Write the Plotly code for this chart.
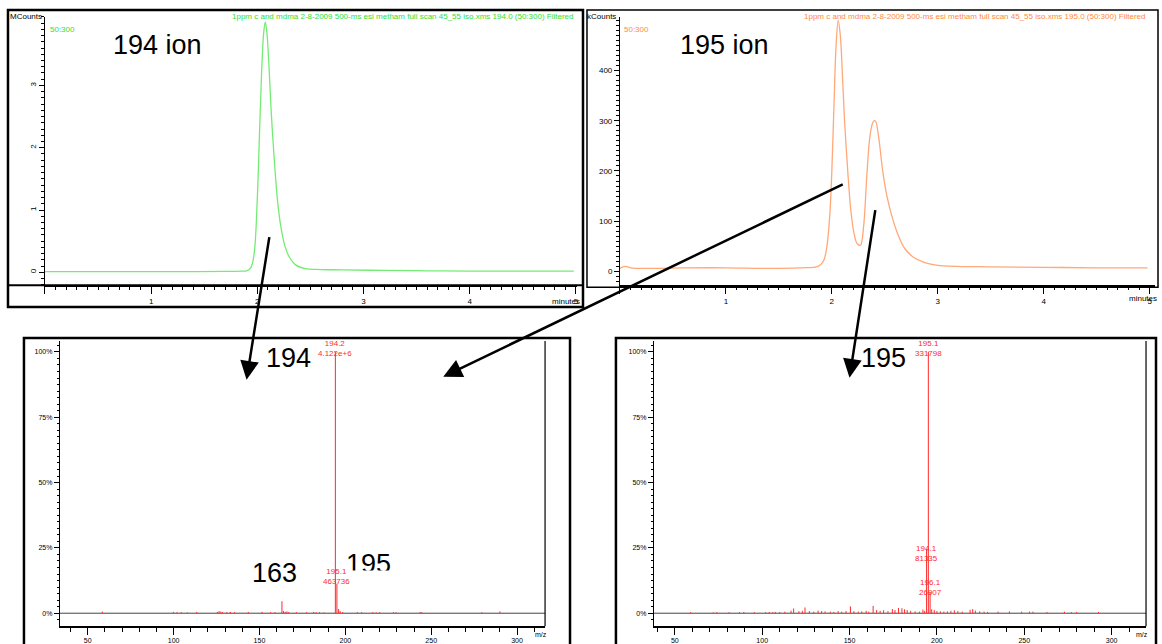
import plotly.graph_objects as go

W, H = 1162, 644
YS = 0.989  # vertical correction observed between intended and photographed positions

# ---------------- data ----------------
# 194 ion chromatogram (minutes, MCounts)
t194 = [0.0, 0.3, 0.6, 1.0, 1.4, 1.7, 1.85, 1.90, 1.94, 1.97, 2.00, 2.02, 2.04, 2.06, 2.075,
        2.09, 2.11, 2.13, 2.16, 2.19, 2.22, 2.26, 2.30, 2.36, 2.45, 2.6, 2.8, 3.2, 3.6, 4.0, 4.5, 4.98]
i194 = [0.01, 0.01, 0.01, 0.012, 0.012, 0.015, 0.02, 0.025, 0.08, 0.3, 1.2, 2.2, 3.2, 3.85, 4.02,
        3.85, 3.3, 2.6, 1.8, 1.15, 0.75, 0.42, 0.25, 0.12, 0.06, 0.045, 0.04, 0.03, 0.025, 0.02, 0.02, 0.02]

# 195 ion chromatogram (minutes, kCounts)
t195 = [0.0, 0.05, 0.1, 0.3, 0.6, 1.0, 1.4, 1.7, 1.87, 1.92, 1.95, 1.98, 2.00, 2.02, 2.04, 2.06, 2.08,
        2.10, 2.12, 2.15, 2.18, 2.21, 2.24, 2.27, 2.30, 2.33, 2.36, 2.39, 2.41, 2.44, 2.48, 2.52,
        2.58, 2.64, 2.69, 2.77, 2.87, 3.0, 3.5, 4.0, 4.5, 4.98]
i195 = [6, 10, 7, 6, 7, 7, 6, 7, 10, 20, 45, 110, 200, 330, 450, 500, 470,
        390, 300, 200, 120, 75, 55, 52, 90, 190, 270, 298, 300, 270, 200, 150,
        100, 65, 45, 28, 18, 12, 9, 8, 7, 7]

# mass spectrum under the 194 ion peak (m/z, relative %)
ms194_mz = [58.5, 99.9, 102, 104.5, 108, 113.5, 125.5, 126.5, 127.5, 128.5, 131, 133, 135.5,
            143.5, 151.5, 156.5, 159, 163.1, 164, 165, 166, 167, 171.5, 177.5, 181.5, 183, 185,
            187.5, 194.2, 195.1, 196.1, 197, 198.5, 207, 209.5, 216, 218, 220, 228, 229.5,
            243.5, 244.5, 279.5, 290]
ms194_int = [0.6, 0.5, 0.4, 0.4, 0.3, 0.5, 0.5, 0.8, 0.6, 0.4, 0.4, 0.5, 0.4,
             0.5, 0.5, 0.4, 0.4, 4.6, 0.8, 0.5, 0.7, 0.4, 0.4, 0.4, 0.5, 0.4, 0.4,
             0.3, 100, 11.25, 1.6, 0.8, 0.4, 0.4, 0.4, 0.4, 0.3, 0.4, 0.4, 0.4,
             0.5, 0.4, 0.4, 0.7]

# mass spectrum under the 195 ion peak (m/z, relative %)
ms195_mz = [59, 72, 74, 81, 87, 89.5, 95.5, 102, 104, 106, 107.5, 110, 113, 116.5, 118, 121, 123,
            124.5, 127, 129.5, 132, 134, 136, 139, 141, 143.5, 145.5, 148, 150.5, 152.5, 155,
            157, 159.5, 161, 163.5, 165.5, 167.5, 169.5, 172, 174.5, 176, 178, 180, 181.5, 183,
            185, 187.5, 190, 192, 193, 194.1, 195.1, 196.1, 197, 198.5, 200, 202, 204, 206, 208,
            210, 212, 214.5, 219, 220.5, 222, 224.5, 227, 229, 235, 241.5, 248.5, 253, 255, 263,
            273, 277, 280, 292.5]
ms195_int = [0.4, 0.3, 0.4, 0.4, 0.4, 0.5, 0.4, 0.4, 0.5, 0.4, 0.5, 0.4, 0.6, 1.0, 1.8, 0.8, 0.9,
             2.2, 0.8, 0.6, 1.0, 0.8, 0.7, 0.6, 0.5, 0.8, 0.6, 0.8, 2.6, 0.8, 0.6,
             0.7, 0.9, 0.6, 2.8, 1.2, 0.9, 1.1, 0.8, 1.6, 1.2, 2.0, 1.9, 1.5, 1.2,
             0.9, 0.7, 0.6, 1.4, 0.9, 24.5, 100, 8.1, 1.5, 1.2, 0.8, 0.7, 0.6, 0.7, 0.9,
             1.1, 0.8, 0.6, 1.3, 1.6, 1.0, 0.7, 0.6, 0.5, 0.6, 0.7, 0.6, 0.6, 0.6, 0.5,
             0.6, 0.4, 0.5, 0.5]

chrom_ticks = [0, 1, 2, 3, 4, 5]
chrom_ticktext = ["", "1", "2", "3", "4", "5"]
ms_ticks = [50, 100, 150, 200, 250, 300]
ms_yticks = [0, 25, 50, 75, 100]
ms_yticktext = ["0%", "25%", "50%", "75%", "100%"]
title194 = "1ppm c and mdma 2-8-2009 500-ms esi metham full scan 45_55 iso.xms 194.0 (50:300) Filtered"
title195 = "1ppm c and mdma 2-8-2009 500-ms esi metham full scan 45_55 iso.xms 195.0 (50:300) Filtered"

# ---------------- helpers ----------------
def px(x):
    return x / W


def py(y):
    return 1 - (y / YS) / H


def sticks(mz, inten):
    xs, ys = [], []
    for m, v in zip(mz, inten):
        xs += [m, m, None]
        ys += [0, v, None]
    return xs, ys


NARROW = "Liberation Sans Narrow, Arial Narrow, Liberation Sans, sans-serif"
BIG = "Liberation Sans, Arial, sans-serif"
GREEN_LINE = "#74ec74"
GREEN_TXT = "#2fe02f"
ORANGE_LINE = "#ffa878"
ORANGE_TXT = "#ff8a3d"
RED = "#ff2a2a"

fig = go.Figure()

fig.add_trace(go.Scatter(x=t194, y=i194, mode="lines", line=dict(color=GREEN_LINE, width=1.3, shape="spline"),
                         xaxis="x", yaxis="y", hoverinfo="skip"))
fig.add_trace(go.Scatter(x=t195, y=i195, mode="lines", line=dict(color=ORANGE_LINE, width=1.3, shape="spline"),
                         xaxis="x2", yaxis="y2", hoverinfo="skip"))
sx, sy = sticks(ms194_mz, ms194_int)
fig.add_trace(go.Scatter(x=sx, y=sy, mode="lines", line=dict(color=RED, width=1), xaxis="x3", yaxis="y3",
                         hoverinfo="skip"))
sx, sy = sticks(ms195_mz, ms195_int)
fig.add_trace(go.Scatter(x=sx, y=sy, mode="lines", line=dict(color=RED, width=1), xaxis="x4", yaxis="y4",
                         hoverinfo="skip"))

tickfont = dict(family=NARROW, size=8, color="black")


def chrom_x(domain, rng, anchor):
    return dict(domain=domain, range=rng, anchor=anchor, showgrid=False, zeroline=False,
                showline=True, linecolor="black", linewidth=2, ticks="outside", ticklen=7,
                tickcolor="black", tickvals=chrom_ticks, ticktext=chrom_ticktext, tickfont=tickfont,
                minor=dict(ticks="outside", dtick=0.1, ticklen=3, tickcolor="black"))


def ms_x(domain, rng, anchor):
    return dict(domain=domain, range=rng, anchor=anchor, showgrid=False, zeroline=False,
                showline=True, linecolor="black", linewidth=1.5, ticks="outside", ticklen=7,
                tickcolor="black", tickvals=ms_ticks, tickfont=dict(family=NARROW, size=7, color="black"),
                minor=dict(ticks="outside", dtick=10, ticklen=4, tickcolor="black"))


def ms_y(domain, rng, anchor):
    return dict(domain=domain, range=rng, anchor=anchor, showgrid=False, zeroline=False,
                showline=True, linecolor="black", linewidth=1, ticks="outside", ticklen=5,
                tickcolor="black", tickvals=ms_yticks, ticktext=ms_yticktext,
                tickfont=dict(family=NARROW, size=7, color="black"),
                minor=dict(ticks="outside", dtick=2.5, ticklen=2, tickcolor="black"))


dy_top = [py(287), py(17)]
dy_bot = [py(630), py(343)]

fig.update_layout(
    width=W, height=H, margin=dict(l=0, r=0, t=0, b=0),
    paper_bgcolor="white", plot_bgcolor="white", showlegend=False,
    xaxis=chrom_x([px(45), px(578)], [0, 5.01], "y"),
    yaxis=dict(domain=dy_top, range=[-0.207, 4.1], anchor="x", showgrid=False, zeroline=False,
               showline=True, linecolor="black", linewidth=1, ticks="outside", ticklen=5, tickcolor="black",
               tickvals=[0, 1, 2, 3], tickangle=-90, tickfont=tickfont,
               minor=dict(ticks="outside", dtick=0.1, ticklen=3, tickcolor="black")),
    xaxis2=chrom_x([px(621), px(1157)], [0, 5.05], "y2"),
    yaxis2=dict(domain=dy_top, range=[-27.7, 507], anchor="x2", showgrid=False, zeroline=False,
                showline=True, linecolor="black", linewidth=1, ticks="outside", ticklen=5, tickcolor="black",
                tickvals=[0, 100, 200, 300, 400], tickfont=tickfont,
                minor=dict(ticks="outside", dtick=10, ticklen=3, tickcolor="black")),
    xaxis3=ms_x([px(60), px(546)], [33.8, 316.3], "y3"),
    yaxis3=ms_y(dy_bot, [-4.94, 104.2], "x3"),
    xaxis4=ms_x([px(655), px(1148)], [38.0, 319.7], "y4"),
    yaxis4=ms_y(dy_bot, [-4.94, 104.2], "x4"),
)

shapes = []


def rect(x0, y0, x1, y1, w):
    shapes.append(dict(type="rect", xref="paper", yref="paper", x0=px(x0), x1=px(x1), y0=py(y0), y1=py(y1),
                       line=dict(color="black", width=w), fillcolor="rgba(0,0,0,0)", layer="above"))


def hline(x0, x1, y, w, color="black"):
    shapes.append(dict(type="line", xref="paper", yref="paper", x0=px(x0), x1=px(x1), y0=py(y), y1=py(y),
                       line=dict(color=color, width=w), layer="above"))


def vline(x, y0, y1, w):
    shapes.append(dict(type="line", xref="paper", yref="paper", x0=px(x), x1=px(x), y0=py(y0), y1=py(y1),
                       line=dict(color="black", width=w), layer="above"))


rect(8, 10, 584, 309, 2.5)
hline(8, 584, 287, 2)
rect(588, 10, 1160, 289, 1.5)
rect(24, 340, 571, 656, 2.5)
rect(617, 340, 1158, 656, 2.5)
vline(546, 343, 630, 1.2)
vline(1148, 343, 630, 1.2)
# 0% baselines
for xa in ("x3", "x4"):
    shapes.append(dict(type="line", xref=xa + " domain", yref=xa.replace("x", "y"), x0=0, x1=1, y0=0, y1=0,
                       line=dict(color="#444444", width=1), layer="below"))
fig.update_layout(shapes=shapes)

ann = []


def text(x, y, s, size=8, color="black", family=NARROW, xanchor="center", yanchor="middle"):
    ann.append(dict(x=px(x), y=py(y), xref="paper", yref="paper", text=s, showarrow=False,
                    font=dict(family=family, size=size, color=color), xanchor=xanchor, yanchor=yanchor))


text(577, 17, title194, 8, GREEN_TXT, xanchor="right")
text(1150, 17, title195, 8, ORANGE_TXT, xanchor="right")
text(48, 30, "50:300", 8, GREEN_TXT, xanchor="left")
text(623, 30, "50:300", 8, ORANGE_TXT, xanchor="left")
text(44, 17, "MCounts", 8, xanchor="right")
text(619, 17, "kCounts", 8, xanchor="right")
text(583, 303, "minutes", 8, xanchor="right")
text(1161, 300, "minutes", 8, xanchor="right")
text(550, 638, "m/z", 7, xanchor="right")
text(1152, 638, "m/z", 7, xanchor="right")

text(158, 45, "194 ion", 27, family=BIG)
text(726, 45, "195 ion", 27, family=BIG)
text(289, 360, "194", 27, family=BIG)
text(885, 360, "195", 27, family=BIG)
text(275, 577, "163", 27, family=BIG)
text(369, 567, "195", 27, family=BIG)
# white patch clipping the lower part of the "195" label
ann.append(dict(x=px(369), y=py(574), xref="paper", yref="paper", text=" ", showarrow=False, width=56, height=10,
                bgcolor="white", borderpad=0, xanchor="center", yanchor="top"))


def peak_label(xa, ya, m, v, s, yshift=-4):
    ann.append(dict(x=m, y=v, xref=xa, yref=ya, text=s, showarrow=False, yanchor="bottom", yshift=yshift,
                    font=dict(family=NARROW, size=8, color=RED)))


peak_label("x3", "y3", 194.2, 100, "194.2<br>4.122e+6", yshift=-8)
peak_label("x3", "y3", 195.1, 11.25, "195.1<br>463736", yshift=-4)
peak_label("x4", "y4", 195.1, 100, "195.1<br>331798", yshift=-8)
peak_label("x4", "y4", 194.1, 24.5, "194.1<br>81335", yshift=-16)
peak_label("x4", "y4", 196.1, 8.1, "196.1<br>26907", yshift=-7)


def arrow(tx, ty, hx, hy):
    ann.append(dict(x=px(hx), y=py(hy), xref="paper", yref="paper", ax=tx - hx, ay=ty - hy, axref="pixel",
                    ayref="pixel", text="", showarrow=True, arrowhead=2, arrowsize=1.5, arrowwidth=2.5,
                    arrowcolor="black", standoff=0, startstandoff=0))


arrow(270, 238, 247, 382)
arrow(845, 186, 444, 379)
arrow(877, 211, 851, 380)

fig.update_layout(annotations=ann)

PAGE_FIX = (
    "var h=document.documentElement,b=document.body;"
    "h.style.margin='0';h.style.padding='0';h.style.overflow='hidden';"
    "b.style.margin='0';b.style.padding='0';b.style.overflow='hidden';"
)

fig.write_html("out.html", config={"displayModeBar": False}, post_script=PAGE_FIX)
